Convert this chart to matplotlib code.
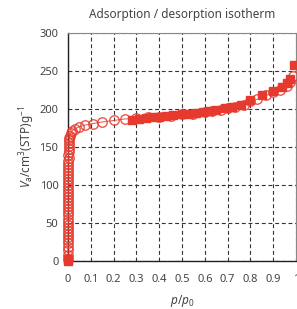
import matplotlib
matplotlib.use("Agg")
import matplotlib.pyplot as plt
import numpy as np

plt.rcParams['font.family'] = ['Noto Sans', 'DejaVu Sans']
plt.rcParams['mathtext.fontset'] = 'custom'
plt.rcParams['mathtext.rm'] = 'Noto Sans'
plt.rcParams['mathtext.it'] = 'Noto Sans:italic'

# Adsorption branch (filled squares)
ads_p = [0.000, 0.001, 0.28, 0.31, 0.34, 0.37, 0.40, 0.43, 0.46, 0.50, 0.53, 0.56,
         0.59, 0.62, 0.65, 0.69, 0.72, 0.76, 0.80, 0.85, 0.90, 0.94, 0.96, 0.975, 0.99]
ads_v = [0, 3, 186, 187, 188, 189, 190, 191, 192, 193, 194, 195,
         196, 197, 199, 201, 203, 206, 212, 218, 224, 229, 234, 240, 258]

# Desorption branch (open circles)
des_p = [0.985, 0.975, 0.96, 0.93, 0.90, 0.87, 0.83, 0.80, 0.77, 0.73, 0.70, 0.67,
         0.63, 0.60, 0.55, 0.50, 0.45, 0.40, 0.35, 0.30, 0.25, 0.20, 0.15, 0.11,
         0.075, 0.05, 0.03, 0.018, 0.011, 0.008, 0.006, 0.005, 0.004, 0.004, 0.003,
         0.003, 0.002, 0.003, 0.002, 0.001, 0.002, 0.001, 0.002, 0.001, 0.000, 0.001,
         0.002, 0.000, 0.001, 0.002, 0.000, 0.001, 0.000, 0.002, 0.001, 0.000, 0.001,
         0.000, 0.002, 0.001, 0.000, 0.001, 0.000, 0.001, 0.000, 0.000, 0.001, 0.000,
         0.000, 0.000]
des_v = [243, 236, 231, 225, 222, 218, 213, 210, 206, 203, 201, 199,
         197, 196, 194, 193, 191, 190, 189, 188, 187, 185, 183, 181,
         179, 177, 174, 171, 168, 165, 162, 159, 156, 152, 148,
         144, 140, 136, 132, 128, 124, 120, 116, 112, 108, 104,
         100, 96, 92, 88, 84, 80, 76, 72, 68, 64, 60,
         56, 52, 48, 44, 40, 36, 32, 28, 24, 19, 14,
         8, 3]

x_ticks = [0, 0.1, 0.2, 0.3, 0.4, 0.5, 0.6, 0.7, 0.8, 0.9, 1]
x_labels = ['0', '0.1', '0.2', '0.3', '0.4', '0.5', '0.6', '0.7', '0.8', '0.9', '1']
y_ticks = [0, 50, 100, 150, 200, 250, 300]

red = '#e53a2d'

fig = plt.figure(figsize=(2.97, 3.09), dpi=100)
ax = fig.add_axes([0.229, 0.155, 0.768, 0.738])

ax.plot(ads_p, ads_v, color=red, lw=0, marker='s', ms=6.0,
        mfc=red, mec=red, zorder=3, clip_on=False)
ax.plot(des_p, des_v, color=red, lw=0.7, marker='o', ms=6.8,
        mfc='none', mec=red, mew=1.0, alpha=0.85, zorder=4, clip_on=False)

ax.set_xlim(0, 1)
ax.set_ylim(0, 300)
ax.set_xticks(x_ticks)
ax.set_xticklabels(x_labels)
ax.set_yticks(y_ticks)
ax.tick_params(length=0, labelsize=8, colors='#444444')
ax.tick_params(axis='x', pad=9)
ax.tick_params(axis='y', pad=7)
ax.grid(True, color='#333333', linestyle=(0, (3.5, 2.5)), linewidth=0.8)
ax.set_axisbelow(True)
for s in ['top', 'right']:
    ax.spines[s].set_color('#888888')
    ax.spines[s].set_linewidth(0.8)
for s in ['left', 'bottom']:
    ax.spines[s].set_color('#222222')
    ax.spines[s].set_linewidth(1.0)

ax.set_title('Adsorption / desorption isotherm', fontsize=8.5, color='#444444', pad=11)
ax.set_xlabel(r'$p$/$p_{\mathrm{0}}$', fontsize=8.5, color='#444444', labelpad=6)
ax.set_ylabel(r'$V_{\mathrm{a}}$/cm$^{3}$(STP)g$^{-1}$', fontsize=8.5, color='#444444', labelpad=2)

fig.savefig('out.png', dpi=100)
